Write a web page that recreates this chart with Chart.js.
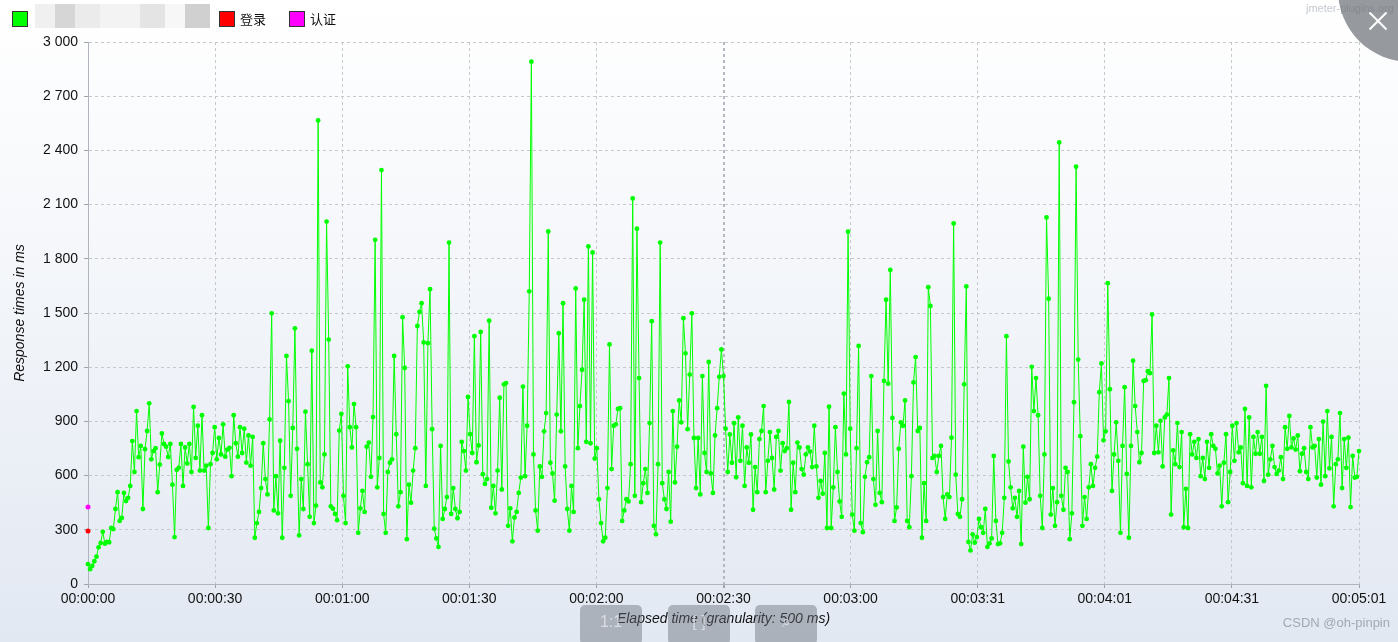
<!DOCTYPE html>
<html>
<head>
<meta charset="utf-8">
<script src="https://cdn.jsdelivr.net/npm/chart.js@4"></script>
<style>
  html, body { margin: 0; padding: 0; }
  body {
    width: 1398px; height: 642px; overflow: hidden; position: relative;
    background: linear-gradient(#ffffff 0%, #f6f8fb 35%, #e2e8f2 100%);
    font-family: "Liberation Sans", Arial, sans-serif;
  }
  #chart { position: absolute; left: 0; top: 0; }
  .legend { position: absolute; top: 11px; height: 16px; font: 13px "Noto Sans CJK SC", sans-serif; color: #111; }
  .sw { position: absolute; width: 14px; height: 14px; border: 1px solid #333; top: 0; }
  .blur { position: absolute; top: 4px; height: 24px; }
  .wm { position: absolute; right: 4px; top: 2px; font-size: 11px; color: #c4c8ce; }
  .close { position: absolute; left: 1338px; top: -82px; width: 144px; height: 144px; border-radius: 50%; background: rgba(110, 113, 120, 0.72); }
  .x1, .x2 { position: absolute; left: 1366px; top: 20px; width: 24px; height: 2px; background: #fff; }
  .x1 { transform: rotate(45deg); } .x2 { transform: rotate(-45deg); }
  .btn { position: absolute; top: 605px; width: 62px; height: 40px; border-radius: 5px; background: rgba(105, 110, 120, 0.45); color: rgba(235, 235, 240, 0.75); font-size: 16px; text-align: center; line-height: 34px; }
  .csdn { position: absolute; right: 8px; top: 615px; font-size: 13px; color: #a3a8b1; }
</style>
</head>
<body>
<canvas id="chart" width="1398" height="642"></canvas>

<!-- legend -->
<div class="legend" style="left:12px;"><div class="sw" style="left:0;background:#00ff00;"></div></div>
<div class="blur" style="left:35px;width:20px;background:#f0f0f0;"></div>
<div class="blur" style="left:55px;width:20px;background:#d6d6d6;"></div>
<div class="blur" style="left:75px;width:25px;background:#ebebeb;"></div>
<div class="blur" style="left:100px;width:40px;background:#f3f3f3;"></div>
<div class="blur" style="left:140px;width:25px;background:#e4e4e4;"></div>
<div class="blur" style="left:165px;width:20px;background:#f7f7f7;"></div>
<div class="blur" style="left:185px;width:25px;background:#d0d0d0;"></div>
<div class="legend" style="left:219px;"><div class="sw" style="left:0;background:#ff0000;"></div><span style="position:absolute;left:21px;top:-2px;white-space:nowrap;">登录</span></div>
<div class="legend" style="left:289px;"><div class="sw" style="left:0;background:#ff00ff;"></div><span style="position:absolute;left:21px;top:-2px;white-space:nowrap;">认证</span></div>

<div class="wm">jmeter-plugins.org</div>
<div class="close"></div><div class="x1"></div><div class="x2"></div>

<div class="btn" style="left:580px;">1:1</div>
<div class="btn" style="left:668px;">[ ]</div>
<div class="btn" style="left:755px;">⌕</div>
<div class="csdn">CSDN @oh-pinpin</div>

<script>
// response times (ms), one value every 500 ms
const rt_000_025 = [110, 82, 100, 126, 151, 203, 227, 289, 223, 233, 231, 310, 304, 415, 508, 349, 366, 504, 459, 477, 543, 791, 620, 957, 702, 764, 415, 746, 847, 1000, 690, 736, 752, 508, 661, 833, 775, 760, 703, 775, 550, 260, 632, 643, 775, 543, 756, 667, 775, 620];
const rt_025_050 = [980, 698, 876, 628, 934, 628, 655, 310, 663, 725, 868, 690, 808, 717, 884, 705, 744, 754, 597, 934, 779, 705, 868, 725, 860, 672, 822, 655, 814, 256, 337, 399, 531, 779, 581, 496, 911, 1498, 407, 597, 391, 793, 256, 643, 1262, 1012, 488, 864, 1415, 748];
const rt_050_075 = [269, 581, 415, 954, 663, 372, 1291, 337, 434, 2566, 562, 535, 717, 2006, 1353, 430, 417, 388, 353, 849, 942, 488, 337, 1205, 868, 756, 996, 868, 283, 419, 515, 399, 760, 783, 593, 924, 1905, 535, 698, 2291, 388, 283, 620, 671, 690, 1262, 829, 430, 508, 1477];
const rt_075_100 = [1196, 248, 550, 450, 628, 752, 1428, 1506, 1554, 1337, 543, 1333, 1632, 857, 306, 252, 205, 764, 360, 415, 481, 1890, 388, 531, 415, 364, 399, 787, 736, 628, 1035, 829, 725, 1372, 674, 767, 1395, 608, 554, 581, 1457, 422, 543, 391, 628, 1031, 523, 1105, 1112, 322];
const rt_100_125 = [419, 236, 368, 399, 504, 589, 1093, 597, 876, 1620, 2891, 717, 407, 295, 651, 593, 845, 946, 1951, 671, 612, 461, 938, 1388, 845, 1554, 651, 415, 295, 543, 399, 1636, 752, 985, 1186, 1574, 787, 1868, 779, 1835, 694, 752, 469, 337, 236, 256, 531, 1326, 636, 876];
const rt_125_150 = [884, 969, 973, 349, 407, 469, 457, 663, 2134, 488, 1967, 1140, 453, 558, 636, 504, 891, 1455, 322, 275, 663, 1890, 558, 469, 415, 620, 345, 957, 562, 760, 1016, 895, 1471, 1277, 857, 1159, 1498, 808, 531, 808, 496, 1151, 725, 620, 1229, 612, 504, 822, 973];
const rt_150_175 = [1147, 1298, 1151, 860, 620, 828, 671, 890, 591, 922, 682, 876, 543, 756, 671, 828, 411, 647, 508, 802, 847, 985, 508, 682, 841, 698, 523, 814, 847, 628, 779, 736, 752, 1008, 411, 671, 508, 783, 756, 636, 605, 717, 756, 733, 647, 876, 651, 477, 570, 500, 725];
const rt_175_200 = [310, 981, 310, 535, 868, 620, 457, 372, 1054, 717, 1950, 860, 384, 295, 752, 1318, 337, 287, 593, 674, 702, 1151, 581, 438, 847, 504, 453, 1124, 1574, 1109, 1738, 919, 349, 424, 748, 895, 876, 1016, 349, 314, 597, 1116, 1256, 847, 864, 256, 558, 349, 1643, 1539];
const rt_200_225 = [698, 709, 620, 709, 764, 481, 360, 496, 481, 810, 1996, 605, 388, 372, 469, 1105, 1647, 233, 186, 275, 229, 260, 360, 314, 283, 415, 205, 225, 252, 709, 349, 221, 225, 283, 477, 1372, 678, 535, 419, 477, 372, 515, 221, 760, 450, 593, 469, 1202, 957, 1140, 934];
const rt_225_250 = [488, 310, 717, 2029, 1579, 384, 531, 322, 453, 2444, 488, 411, 643, 620, 248, 391, 1006, 2310, 1242, 818, 322, 481, 360, 535, 663, 543, 643, 705, 1062, 1221, 795, 845, 1665, 1078, 515, 717, 895, 682, 283, 764, 1089, 609, 256, 764, 1236, 985, 841, 674, 725, 1124];
const rt_250_275 = [1128, 1178, 1167, 1492, 725, 876, 729, 903, 651, 922, 938, 1140, 384, 740, 663, 891, 647, 841, 314, 527, 310, 829, 717, 787, 698, 802, 597, 698, 581, 787, 643, 829, 764, 748, 612, 655, 430, 671, 829, 453, 620, 876, 682, 891, 729, 756, 558, 969, 543, 922];
const rt_275_301 = [535, 814, 721, 841, 721, 814, 570, 1097, 605, 690, 764, 647, 609, 628, 702, 581, 868, 748, 930, 756, 806, 744, 822, 624, 721, 752, 620, 581, 868, 756, 764, 589, 802, 550, 899, 597, 957, 640, 814, 430, 663, 690, 946, 531, 802, 643, 810, 426, 709, 589, 593, 736];

// the two other samplers only have a single point at the start
const loginMs = [293];
const authMs = [426];

const xTickLabels = ['00:00:00', '00:00:30', '00:01:00', '00:01:30', '00:02:00', '00:02:30',
  '00:03:00', '00:03:31', '00:04:01', '00:04:31', '00:05:01'];
const granularitySec = 0.5;
const spanSec = 301;

const responseMs = [].concat(rt_000_025, rt_025_050, rt_050_075, rt_075_100, rt_100_125, rt_125_150,
  rt_150_175, rt_175_200, rt_200_225, rt_225_250, rt_250_275, rt_275_301);

const toPoints = arr => arr.map((v, i) => ({ x: i * granularitySec, y: v }));

function spaced(v) {
  return String(v).replace(/\B(?=(\d{3})+(?!\d))/g, ' ');
}

new Chart(document.getElementById('chart'), {
  type: 'line',
  data: {
    datasets: [
      {
        label: '认证',
        data: toPoints(authMs),
        borderColor: '#ff00ff',
        backgroundColor: '#ff00ff',
        pointRadius: 2.5,
        pointBorderWidth: 0,
        clip: false
      },
      {
        label: '登录',
        data: toPoints(loginMs),
        borderColor: '#ff0000',
        backgroundColor: '#ff0000',
        pointRadius: 2.5,
        pointBorderWidth: 0,
        clip: false
      },
      {
        label: '',
        data: toPoints(responseMs),
        borderColor: '#00ff00',
        backgroundColor: '#00ff00',
        borderWidth: 1,
        pointRadius: 2.4,
        pointBorderWidth: 0,
        tension: 0,
        clip: false
      }
    ]
  },
  options: {
    responsive: false,
    animation: false,
    devicePixelRatio: 1,
    layout: { padding: { left: 0, top: 42, right: 39, bottom: 0 } },
    plugins: {
      legend: { display: false },
      tooltip: { enabled: false }
    },
    scales: {
      x: {
        type: 'linear',
        min: 0,
        max: spanSec,
        afterBuildTicks: s => {
          s.ticks = xTickLabels.map((_, k) => ({ value: k * spanSec / (xTickLabels.length - 1) }));
        },
        afterFit: s => { s.height = 58; },
        ticks: {
          autoSkip: false,
          maxRotation: 0,
          padding: 3,
          color: '#111',
          font: { family: 'Liberation Sans', size: 14 },
          callback: (v, i) => xTickLabels[i]
        },
        grid: {
          color: c => c.index === 5 ? '#b4b8c0' : '#c6c8cc',
          lineWidth: c => c.index === 5 ? 2 : 1,
          tickLength: 4,
          tickColor: '#a0a4aa',
          tickBorderDash: []
        },
        border: { color: '#b0b4bc', width: 1, dash: [3, 3] },
        title: {
          display: true,
          text: 'Elapsed time (granularity: 500 ms)',
          color: '#111',
          font: { family: 'Liberation Sans', size: 14, style: 'italic' },
          padding: { top: 0, bottom: 14 }
        }
      },
      y: {
        min: 0,
        max: 3000,
        afterFit: s => { s.width = 88; },
        ticks: {
          stepSize: 300,
          padding: 6,
          color: '#111',
          font: { family: 'Liberation Sans', size: 14 },
          callback: v => spaced(v)
        },
        grid: {
          color: '#c6c8cc',
          lineWidth: 1,
          tickLength: 4,
          tickColor: '#a0a4aa',
          tickBorderDash: []
        },
        border: { color: '#b0b4bc', width: 1, dash: [3, 3] },
        title: {
          display: true,
          text: 'Response times in ms',
          color: '#111',
          font: { family: 'Liberation Sans', size: 14, style: 'italic' },
          padding: { top: 12, bottom: 0 }
        }
      }
    }
  }
});
</script>
</body>
</html>
